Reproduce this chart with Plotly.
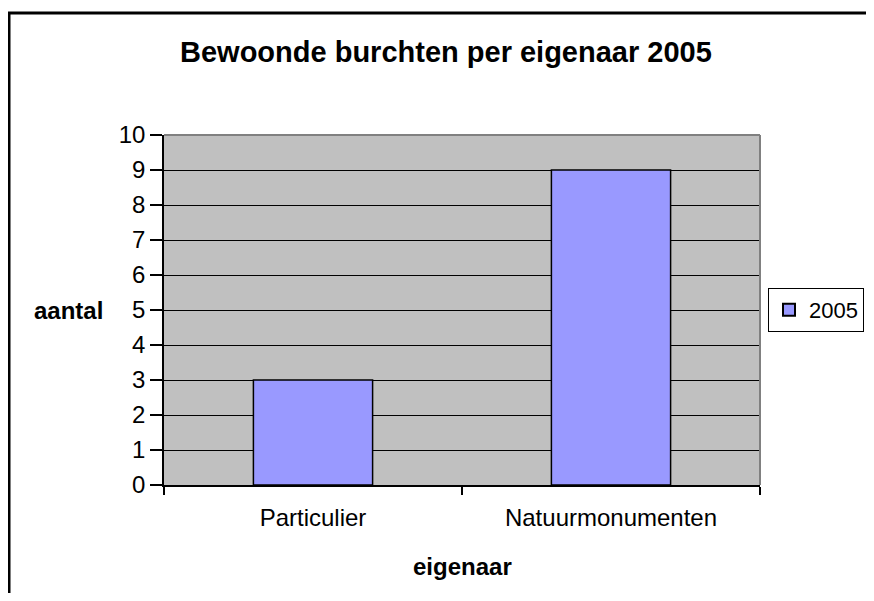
import plotly.graph_objects as go

categories = ["Particulier", "Natuurmonumenten"]
values_2005 = [3, 9]
series_name = "2005"
y_ticks = list(range(0, 11))

FONT = "Liberation Sans, Arial, sans-serif"

fig = go.Figure()
fig.add_trace(go.Bar(
    x=categories, y=values_2005, name=series_name,
    width=0.4,
    marker=dict(color="#9999FF", line=dict(color="black", width=1.5)),
))

# The page body has an 8px default margin; size the figure so the page does not overflow.
OFF = 8
W, H = 874 - OFF, 601 - 2 * OFF
# plot area in reference (window) pixels: x 164..760, y 135..485
L, T = 164 - OFF, 135 - OFF
R = W - (760 - OFF)
B = H - (485 - OFF)
pw, ph = W - L - R, H - T - B

def px(x):  # window pixel -> paper x
    return (x - OFF - L) / pw

def py(y):  # window pixel -> paper y
    return (H - B - (y - OFF)) / ph

fig.update_layout(
    width=W, height=H,
    margin=dict(l=L, r=R, t=T, b=B, pad=0, autoexpand=False),
    paper_bgcolor="white",
    plot_bgcolor="#C0C0C0",
    font=dict(family=FONT, size=24, color="black"),
    showlegend=True,
    legend=dict(
        x=px(864), xanchor="right", y=0.5, yanchor="middle",
        bordercolor="black", borderwidth=1, bgcolor="white",
        font=dict(size=22, family=FONT),
        itemsizing="constant",
    ),
    xaxis=dict(
        range=[-0.5, 1.5],
        tickson="boundaries",
        ticks="outside", ticklen=8, tickcolor="black", tickwidth=1.5,
        showline=True, linecolor="black", linewidth=1.5,
        showgrid=False, zeroline=False,
        tickfont=dict(size=24, family=FONT),
        ticklabelstandoff=10,
        automargin=False,
    ),
    yaxis=dict(
        range=[0, 10],
        tickvals=y_ticks,
        ticks="outside", ticklen=12, tickcolor="black", tickwidth=1.5,
        showline=True, linecolor="black", linewidth=1.5,
        showgrid=True, gridcolor="black", gridwidth=1.2,
        zeroline=False,
        tickfont=dict(size=24, family=FONT),
        automargin=False,
    ),
    annotations=[
        dict(text="<b>Bewoonde burchten per eigenaar 2005</b>", xref="paper", yref="paper",
             x=px(446), y=py(52), xanchor="center", yanchor="middle",
             showarrow=False, font=dict(size=29, family=FONT)),
        dict(text="<b>aantal</b>", xref="paper", yref="paper",
             x=px(68), y=0.5, xanchor="center", yanchor="middle",
             showarrow=False, font=dict(size=24, family=FONT)),
        dict(text="<b>eigenaar</b>", xref="paper", yref="paper",
             x=0.5, y=py(566), xanchor="center", yanchor="middle",
             showarrow=False, font=dict(size=24, family=FONT)),
    ],
    shapes=[
        dict(type="rect", xref="paper", yref="paper",
             x0=px(9), y0=py(13), x1=px(890), y1=py(620),
             line=dict(color="black", width=3), fillcolor="rgba(0,0,0,0)"),
        dict(type="line", xref="paper", yref="paper", x0=0, x1=1, y0=1, y1=1,
             line=dict(color="#808080", width=2)),
        dict(type="line", xref="paper", yref="paper", x0=1, x1=1, y0=0, y1=1,
             line=dict(color="#808080", width=2)),
    ],
    bargap=0.6,
)

fig.write_html("out.html")
